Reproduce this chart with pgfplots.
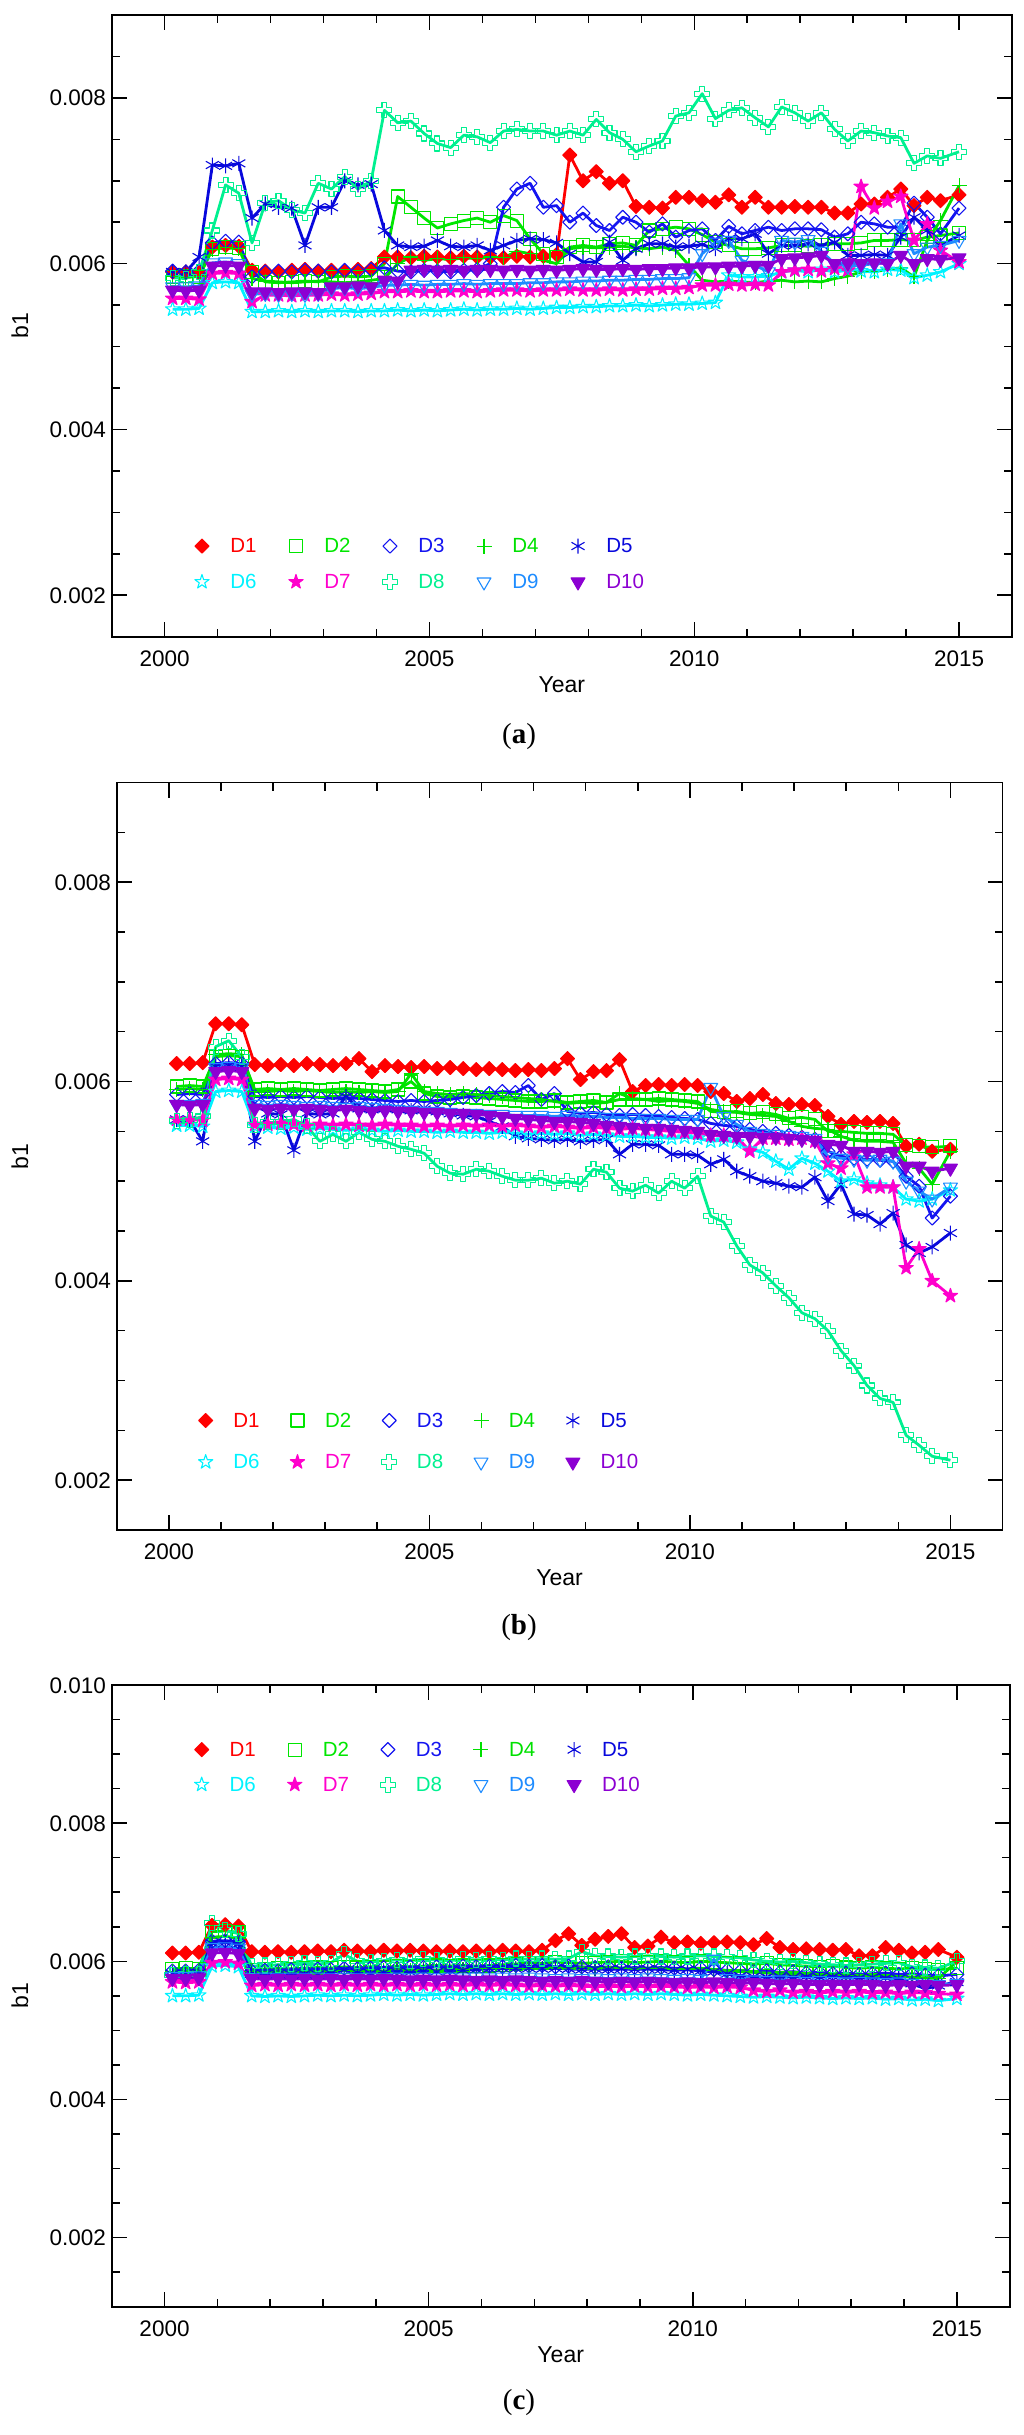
\documentclass[border=0pt]{standalone}
\usepackage{fontspec}
\setmainfont{Liberation Sans}
\newfontfamily\capfont{Liberation Serif}
\usepackage{pgfplots}
\usepackage{pgfplotstable}
\pgfplotsset{compat=1.18}
\usetikzlibrary{plotmarks}

\pgfdeclareplotmark{fdia}{\pgfpathmoveto{\pgfqpoint{0pt}{\pgfplotmarksize}}\pgfpathlineto{\pgfqpoint{\pgfplotmarksize}{0pt}}\pgfpathlineto{\pgfqpoint{0pt}{-\pgfplotmarksize}}\pgfpathlineto{\pgfqpoint{-\pgfplotmarksize}{0pt}}\pgfpathclose\pgfusepathqfillstroke}
\pgfdeclareplotmark{odia}{\pgfpathmoveto{\pgfqpoint{0pt}{\pgfplotmarksize}}\pgfpathlineto{\pgfqpoint{\pgfplotmarksize}{0pt}}\pgfpathlineto{\pgfqpoint{0pt}{-\pgfplotmarksize}}\pgfpathlineto{\pgfqpoint{-\pgfplotmarksize}{0pt}}\pgfpathclose\pgfusepathqstroke}
\def\starpath{\pgfpathmoveto{\pgfqpoint{0pt}{\pgfplotmarksize}}%
\pgfpathlineto{\pgfqpoint{-0.2245\pgfplotmarksize}{0.309\pgfplotmarksize}}%
\pgfpathlineto{\pgfqpoint{-0.951\pgfplotmarksize}{0.309\pgfplotmarksize}}%
\pgfpathlineto{\pgfqpoint{-0.363\pgfplotmarksize}{-0.118\pgfplotmarksize}}%
\pgfpathlineto{\pgfqpoint{-0.588\pgfplotmarksize}{-0.809\pgfplotmarksize}}%
\pgfpathlineto{\pgfqpoint{0pt}{-0.382\pgfplotmarksize}}%
\pgfpathlineto{\pgfqpoint{0.588\pgfplotmarksize}{-0.809\pgfplotmarksize}}%
\pgfpathlineto{\pgfqpoint{0.363\pgfplotmarksize}{-0.118\pgfplotmarksize}}%
\pgfpathlineto{\pgfqpoint{0.951\pgfplotmarksize}{0.309\pgfplotmarksize}}%
\pgfpathlineto{\pgfqpoint{0.2245\pgfplotmarksize}{0.309\pgfplotmarksize}}%
\pgfpathclose}
\pgfdeclareplotmark{ostar}{\starpath\pgfusepathqstroke}
\pgfdeclareplotmark{fstar}{\starpath\pgfusepathqfillstroke}
\pgfdeclareplotmark{ocross}{\pgfpathmoveto{\pgfqpoint{0.33\pgfplotmarksize}{\pgfplotmarksize}}%
\pgfpathlineto{\pgfqpoint{0.33\pgfplotmarksize}{0.33\pgfplotmarksize}}%
\pgfpathlineto{\pgfqpoint{\pgfplotmarksize}{0.33\pgfplotmarksize}}%
\pgfpathlineto{\pgfqpoint{\pgfplotmarksize}{-0.33\pgfplotmarksize}}%
\pgfpathlineto{\pgfqpoint{0.33\pgfplotmarksize}{-0.33\pgfplotmarksize}}%
\pgfpathlineto{\pgfqpoint{0.33\pgfplotmarksize}{-\pgfplotmarksize}}%
\pgfpathlineto{\pgfqpoint{-0.33\pgfplotmarksize}{-\pgfplotmarksize}}%
\pgfpathlineto{\pgfqpoint{-0.33\pgfplotmarksize}{-0.33\pgfplotmarksize}}%
\pgfpathlineto{\pgfqpoint{-\pgfplotmarksize}{-0.33\pgfplotmarksize}}%
\pgfpathlineto{\pgfqpoint{-\pgfplotmarksize}{0.33\pgfplotmarksize}}%
\pgfpathlineto{\pgfqpoint{-0.33\pgfplotmarksize}{0.33\pgfplotmarksize}}%
\pgfpathlineto{\pgfqpoint{-0.33\pgfplotmarksize}{\pgfplotmarksize}}%
\pgfpathclose\pgfusepathqstroke}
\def\tripath{\pgfpathmoveto{\pgfqpoint{0pt}{-\pgfplotmarksize}}\pgfpathlineto{\pgfqpoint{0.866\pgfplotmarksize}{0.5\pgfplotmarksize}}\pgfpathlineto{\pgfqpoint{-0.866\pgfplotmarksize}{0.5\pgfplotmarksize}}\pgfpathclose}
\pgfdeclareplotmark{dtri}{\tripath\pgfusepathqstroke}
\pgfdeclareplotmark{dtrif}{\tripath\pgfusepathqfillstroke}

\definecolor{cD1}{HTML}{FF0000}
\definecolor{cD2}{HTML}{00E600}
\definecolor{cD3}{HTML}{1414F0}
\definecolor{cD4}{HTML}{00E000}
\definecolor{cD5}{HTML}{0808DC}
\definecolor{cD6}{HTML}{00F2FF}
\definecolor{cD7}{HTML}{FF00CC}
\definecolor{cD8}{HTML}{00F090}
\definecolor{cD9}{HTML}{1E8CFF}
\definecolor{cD10}{HTML}{8C00D2}

\pgfplotsset{
 ser/.style={line width=2.8pt, line join=round, mark options={solid, line width=1.1pt}},
 sD1/.style={ser, color=cD1, mark=fdia, mark size=7pt},
 sD2/.style={ser, color=cD2, mark=square, mark size=6.5pt},
 sD3/.style={ser, color=cD3, mark=odia, mark size=7pt},
 sD4/.style={ser, color=cD4, mark=+, mark size=7.5pt},
 sD5/.style={ser, color=cD5, mark=asterisk, mark size=7.5pt},
 sD6/.style={ser, color=cD6, mark=ostar, mark size=7.5pt},
 sD7/.style={ser, color=cD7, mark=fstar, mark size=7.5pt},
 sD8/.style={ser, color=cD8, mark=ocross, mark size=7.5pt},
 sD9/.style={ser, color=cD9, mark=dtri, mark size=8pt},
 sD10/.style={ser, color=cD10, mark=dtrif, mark size=8pt},
 panel/.style={
  scale only axis, anchor=south west,
  xmin=1999, xmax=2016,
  xtick={2000,2005,2010,2015},
  minor xtick={2001,2002,2003,2004,2006,2007,2008,2009,2011,2012,2013,2014},
  tick pos=both, xticklabel pos=lower, yticklabel pos=left,
  tick align=inside,
  major tick length=15pt, minor tick length=8pt,
  tick style={black, line width=1.5pt},
  axis line style={line width=1.8pt},
  tick label style={font=\fontsize{22.5}{26}\selectfont},
  /pgf/number format/assume math mode=true,
  xticklabel style={/pgf/number format/1000 sep={}, anchor=north, inner sep=0pt, text height=16pt, text depth=0pt, yshift=-13.5pt},
  yticklabel style={/pgf/number format/fixed, /pgf/number format/fixed zerofill, /pgf/number format/precision=3, anchor=east, inner sep=0pt, text height=16pt, text depth=0pt, xshift=-5.5pt},
  scaled y ticks=false,
  xlabel={Year}, ylabel={b1},
  label style={font=\fontsize{23}{27}\selectfont},
  xlabel style={at={(axis description cs:0.5,0)}, anchor=center, yshift=-48pt, inner sep=0pt},
  ylabel style={anchor=center, inner sep=0pt},
  legend columns=5, legend cell align=left,
  legend image code/.code={\draw[##1] plot coordinates {(0pt,0pt)}; \path[draw=none,fill=none] (-8pt,-8pt) rectangle (8pt,8pt);},
  legend style={draw=none, fill=none, inner sep=0pt, outer sep=0pt, anchor=north west, font=\fontsize{20.5}{24}\selectfont, cells={inner sep=0pt, text height=14.7pt, text depth=0pt}},
 }
}

\pgfplotstableread{
x D1 D2 D3 D4 D5 D6 D7 D8 D9 D10
2000.15 0.00590 0.00584 0.00591 0.00584 0.00590 0.00545 0.00558 0.00583 0.00572 0.00568
2000.40 0.00590 0.00585 0.00590 0.00583 0.00590 0.00545 0.00558 0.00582 0.00572 0.00567
2000.65 0.00589 0.00584 0.00591 0.00585 0.00608 0.00546 0.00557 0.00590 0.00573 0.00568
2000.90 0.00620 0.00618 0.00625 0.00617 0.00719 0.00577 0.00588 0.00640 0.00601 0.00597
2001.15 0.00622 0.00620 0.00627 0.00619 0.00718 0.00578 0.00589 0.00695 0.00602 0.00598
2001.40 0.00621 0.00619 0.00626 0.00618 0.00721 0.00577 0.00588 0.00685 0.00600 0.00597
2001.65 0.00592 0.00590 0.00584 0.00582 0.00655 0.00542 0.00554 0.00625 0.00563 0.00566
2001.90 0.00591 0.00578 0.00590 0.00579 0.00672 0.00542 0.00562 0.00673 0.00564 0.00566
2002.15 0.00590 0.00577 0.00591 0.00578 0.00668 0.00543 0.00562 0.00676 0.00563 0.00565
2002.40 0.00592 0.00578 0.00590 0.00577 0.00667 0.00542 0.00561 0.00665 0.00564 0.00566
2002.65 0.00593 0.00579 0.00592 0.00578 0.00622 0.00543 0.00562 0.00661 0.00563 0.00566
2002.90 0.00591 0.00578 0.00591 0.00579 0.00668 0.00542 0.00562 0.00697 0.00564 0.00565
2003.15 0.00592 0.00584 0.00590 0.00578 0.00668 0.00543 0.00563 0.00690 0.00570 0.00572
2003.40 0.00591 0.00585 0.00592 0.00577 0.00700 0.00543 0.00562 0.00705 0.00571 0.00572
2003.65 0.00593 0.00584 0.00591 0.00578 0.00695 0.00542 0.00563 0.00690 0.00570 0.00573
2003.90 0.00594 0.00585 0.00593 0.00580 0.00696 0.00543 0.00564 0.00700 0.00571 0.00572
2004.15 0.00608 0.00600 0.00595 0.00582 0.00640 0.00543 0.00566 0.00785 0.00574 0.00580
2004.40 0.00608 0.00681 0.00591 0.00600 0.00622 0.00544 0.00566 0.00770 0.00574 0.00579
2004.65 0.00607 0.00668 0.00590 0.00608 0.00620 0.00543 0.00567 0.00772 0.00575 0.00592
2004.90 0.00609 0.00655 0.00592 0.00604 0.00621 0.00544 0.00566 0.00757 0.00574 0.00593
2005.15 0.00608 0.00643 0.00591 0.00606 0.00628 0.00543 0.00566 0.00745 0.00575 0.00592
2005.40 0.00607 0.00648 0.00590 0.00605 0.00621 0.00544 0.00567 0.00740 0.00575 0.00593
2005.65 0.00609 0.00652 0.00592 0.00607 0.00620 0.00545 0.00567 0.00755 0.00576 0.00592
2005.90 0.00608 0.00655 0.00593 0.00606 0.00622 0.00544 0.00566 0.00753 0.00575 0.00593
2006.15 0.00608 0.00650 0.00600 0.00608 0.00616 0.00545 0.00567 0.00746 0.00576 0.00593
2006.40 0.00607 0.00658 0.00668 0.00607 0.00622 0.00545 0.00568 0.00760 0.00576 0.00592
2006.65 0.00609 0.00652 0.00690 0.00615 0.00628 0.00546 0.00568 0.00762 0.00576 0.00593
2006.90 0.00608 0.00630 0.00697 0.00612 0.00630 0.00545 0.00567 0.00760 0.00577 0.00592
2007.15 0.00609 0.00612 0.00668 0.00604 0.00629 0.00546 0.00568 0.00760 0.00577 0.00593
2007.40 0.00611 0.00608 0.00670 0.00600 0.00625 0.00547 0.00568 0.00755 0.00578 0.00592
2007.65 0.00731 0.00620 0.00650 0.00618 0.00612 0.00547 0.00569 0.00760 0.00578 0.00593
2007.90 0.00700 0.00622 0.00661 0.00620 0.00602 0.00548 0.00568 0.00755 0.00579 0.00594
2008.15 0.00711 0.00620 0.00646 0.00619 0.00602 0.00548 0.00568 0.00774 0.00579 0.00593
2008.40 0.00697 0.00624 0.00640 0.00620 0.00626 0.00549 0.00569 0.00758 0.00580 0.00593
2008.65 0.00700 0.00625 0.00656 0.00621 0.00604 0.00549 0.00568 0.00750 0.00580 0.00594
2008.90 0.00669 0.00622 0.00650 0.00619 0.00618 0.00550 0.00569 0.00735 0.00581 0.00593
2009.15 0.00668 0.00640 0.00638 0.00618 0.00624 0.00549 0.00569 0.00742 0.00581 0.00594
2009.40 0.00667 0.00642 0.00648 0.00620 0.00624 0.00550 0.00570 0.00748 0.00582 0.00594
2009.65 0.00680 0.00644 0.00632 0.00616 0.00620 0.00551 0.00570 0.00778 0.00582 0.00595
2009.90 0.00680 0.00642 0.00640 0.00598 0.00621 0.00551 0.00571 0.00782 0.00583 0.00595
2010.15 0.00676 0.00635 0.00642 0.00580 0.00623 0.00552 0.00574 0.00805 0.00612 0.00596
2010.40 0.00674 0.00626 0.00628 0.00578 0.00618 0.00553 0.00574 0.00775 0.00626 0.00596
2010.65 0.00683 0.00622 0.00645 0.00579 0.00630 0.00586 0.00575 0.00785 0.00628 0.00597
2010.90 0.00668 0.00618 0.00636 0.00578 0.00630 0.00584 0.00574 0.00788 0.00604 0.00597
2011.15 0.00680 0.00618 0.00640 0.00577 0.00636 0.00584 0.00575 0.00776 0.00598 0.00598
2011.40 0.00668 0.00619 0.00644 0.00579 0.00612 0.00585 0.00574 0.00765 0.00590 0.00598
2011.65 0.00668 0.00622 0.00640 0.00580 0.00622 0.00590 0.00590 0.00789 0.00628 0.00606
2011.90 0.00669 0.00622 0.00642 0.00578 0.00622 0.00592 0.00592 0.00782 0.00626 0.00607
2012.15 0.00668 0.00621 0.00642 0.00579 0.00624 0.00590 0.00593 0.00772 0.00629 0.00608
2012.40 0.00668 0.00623 0.00641 0.00578 0.00622 0.00593 0.00591 0.00782 0.00615 0.00610
2012.65 0.00661 0.00624 0.00632 0.00582 0.00626 0.00590 0.00594 0.00762 0.00600 0.00600
2012.90 0.00661 0.00624 0.00636 0.00585 0.00610 0.00592 0.00592 0.00748 0.00597 0.00601
2013.15 0.00672 0.00625 0.00650 0.00590 0.00610 0.00591 0.00693 0.00760 0.00598 0.00600
2013.40 0.00672 0.00628 0.00648 0.00591 0.00611 0.00590 0.00667 0.00758 0.00600 0.00601
2013.65 0.00680 0.00628 0.00644 0.00593 0.00610 0.00593 0.00675 0.00754 0.00601 0.00600
2013.90 0.00690 0.00629 0.00644 0.00595 0.00632 0.00592 0.00681 0.00752 0.00648 0.00610
2014.15 0.00670 0.00628 0.00673 0.00584 0.00656 0.00583 0.00628 0.00721 0.00612 0.00600
2014.40 0.00680 0.00632 0.00656 0.00628 0.00640 0.00586 0.00648 0.00730 0.00620 0.00606
2014.65 0.00676 0.00634 0.00636 0.00652 0.00622 0.00590 0.00616 0.00727 0.00622 0.00605
2015.00 0.00683 0.00637 0.00667 0.00694 0.00634 0.00600 0.00602 0.00735 0.00628 0.00607
}\tabA

\pgfplotstableread{
x D1 D2 D3 D4 D5 D6 D7 D8 D9 D10
2000.15 0.00618 0.00595 0.00587 0.00592 0.00562 0.00556 0.00562 0.00560 0.00577 0.00577
2000.40 0.00618 0.00596 0.00588 0.00593 0.00562 0.00556 0.00562 0.00561 0.00577 0.00576
2000.65 0.00619 0.00595 0.00587 0.00592 0.00540 0.00555 0.00561 0.00565 0.00578 0.00577
2000.90 0.00658 0.00625 0.00618 0.00627 0.00615 0.00590 0.00602 0.00635 0.00614 0.00610
2001.15 0.00658 0.00626 0.00619 0.00628 0.00616 0.00591 0.00603 0.00641 0.00615 0.00611
2001.40 0.00657 0.00625 0.00618 0.00627 0.00615 0.00590 0.00602 0.00625 0.00614 0.00610
2001.65 0.00617 0.00592 0.00585 0.00590 0.00540 0.00555 0.00557 0.00556 0.00577 0.00573
2001.90 0.00616 0.00593 0.00584 0.00590 0.00568 0.00554 0.00557 0.00559 0.00576 0.00572
2002.15 0.00617 0.00592 0.00585 0.00591 0.00567 0.00553 0.00558 0.00559 0.00577 0.00573
2002.40 0.00616 0.00593 0.00584 0.00590 0.00531 0.00554 0.00557 0.00562 0.00576 0.00572
2002.65 0.00618 0.00592 0.00585 0.00591 0.00568 0.00552 0.00556 0.00555 0.00575 0.00573
2002.90 0.00617 0.00591 0.00584 0.00590 0.00567 0.00553 0.00557 0.00540 0.00576 0.00572
2003.15 0.00616 0.00592 0.00583 0.00589 0.00568 0.00552 0.00556 0.00547 0.00575 0.00571
2003.40 0.00618 0.00593 0.00584 0.00590 0.00585 0.00551 0.00557 0.00540 0.00574 0.00572
2003.65 0.00623 0.00592 0.00583 0.00589 0.00573 0.00552 0.00556 0.00549 0.00575 0.00571
2003.90 0.00610 0.00591 0.00582 0.00590 0.00572 0.00551 0.00556 0.00542 0.00574 0.00570
2004.15 0.00616 0.00590 0.00581 0.00589 0.00573 0.00550 0.00557 0.00540 0.00573 0.00571
2004.40 0.00615 0.00592 0.00580 0.00590 0.00572 0.00551 0.00556 0.00535 0.00572 0.00570
2004.65 0.00614 0.00600 0.00581 0.00608 0.00571 0.00550 0.00556 0.00532 0.00571 0.00570
2004.90 0.00615 0.00588 0.00580 0.00590 0.00572 0.00550 0.00555 0.00528 0.00570 0.00569
2005.15 0.00613 0.00585 0.00581 0.00588 0.00570 0.00549 0.00556 0.00515 0.00570 0.00569
2005.40 0.00614 0.00584 0.00582 0.00587 0.00568 0.00550 0.00555 0.00508 0.00569 0.00568
2005.65 0.00613 0.00585 0.00584 0.00588 0.00566 0.00549 0.00556 0.00507 0.00568 0.00568
2005.90 0.00612 0.00584 0.00586 0.00587 0.00565 0.00549 0.00555 0.00512 0.00568 0.00567
2006.15 0.00613 0.00583 0.00588 0.00586 0.00560 0.00548 0.00556 0.00510 0.00567 0.00566
2006.40 0.00612 0.00582 0.00590 0.00585 0.00555 0.00549 0.00555 0.00505 0.00567 0.00565
2006.65 0.00611 0.00581 0.00589 0.00584 0.00545 0.00548 0.00556 0.00501 0.00566 0.00563
2006.90 0.00612 0.00580 0.00596 0.00583 0.00543 0.00547 0.00555 0.00501 0.00566 0.00562
2007.15 0.00611 0.00580 0.00582 0.00582 0.00542 0.00548 0.00554 0.00503 0.00566 0.00561
2007.40 0.00613 0.00581 0.00588 0.00580 0.00541 0.00547 0.00555 0.00498 0.00565 0.00560
2007.65 0.00623 0.00579 0.00570 0.00578 0.00542 0.00548 0.00554 0.00500 0.00566 0.00560
2007.90 0.00602 0.00580 0.00568 0.00579 0.00540 0.00546 0.00553 0.00497 0.00565 0.00559
2008.15 0.00610 0.00581 0.00569 0.00578 0.00541 0.00547 0.00554 0.00512 0.00565 0.00558
2008.40 0.00611 0.00579 0.00567 0.00579 0.00542 0.00546 0.00553 0.00509 0.00564 0.00556
2008.65 0.00622 0.00582 0.00566 0.00588 0.00527 0.00545 0.00552 0.00493 0.00564 0.00555
2008.90 0.00590 0.00582 0.00567 0.00583 0.00537 0.00545 0.00553 0.00490 0.00563 0.00554
2009.15 0.00596 0.00582 0.00566 0.00582 0.00537 0.00544 0.00552 0.00496 0.00563 0.00553
2009.40 0.00597 0.00583 0.00565 0.00580 0.00536 0.00544 0.00551 0.00488 0.00563 0.00553
2009.65 0.00596 0.00582 0.00564 0.00581 0.00527 0.00543 0.00550 0.00500 0.00562 0.00552
2009.90 0.00597 0.00581 0.00563 0.00580 0.00527 0.00544 0.00549 0.00493 0.00562 0.00551
2010.15 0.00596 0.00580 0.00562 0.00578 0.00526 0.00543 0.00548 0.00505 0.00562 0.00550
2010.40 0.00590 0.00570 0.00558 0.00572 0.00517 0.00540 0.00546 0.00465 0.00594 0.00547
2010.65 0.00588 0.00569 0.00556 0.00570 0.00522 0.00541 0.00546 0.00459 0.00565 0.00546
2010.90 0.00580 0.00570 0.00555 0.00569 0.00510 0.00539 0.00545 0.00435 0.00557 0.00545
2011.15 0.00583 0.00568 0.00552 0.00567 0.00505 0.00532 0.00530 0.00416 0.00550 0.00545
2011.40 0.00587 0.00569 0.00550 0.00566 0.00500 0.00529 0.00543 0.00408 0.00548 0.00544
2011.65 0.00578 0.00567 0.00548 0.00565 0.00498 0.00520 0.00543 0.00395 0.00547 0.00544
2011.90 0.00577 0.00563 0.00546 0.00560 0.00495 0.00512 0.00542 0.00383 0.00546 0.00543
2012.15 0.00577 0.00564 0.00544 0.00555 0.00494 0.00523 0.00543 0.00368 0.00545 0.00542
2012.40 0.00576 0.00562 0.00542 0.00553 0.00504 0.00518 0.00540 0.00362 0.00543 0.00541
2012.65 0.00565 0.00550 0.00530 0.00552 0.00480 0.00510 0.00518 0.00350 0.00525 0.00537
2012.90 0.00557 0.00550 0.00525 0.00545 0.00497 0.00500 0.00513 0.00330 0.00523 0.00536
2013.15 0.00560 0.00549 0.00523 0.00541 0.00467 0.00502 0.00527 0.00315 0.00522 0.00530
2013.40 0.00559 0.00548 0.00522 0.00540 0.00466 0.00498 0.00494 0.00295 0.00521 0.00530
2013.65 0.00560 0.00548 0.00521 0.00540 0.00457 0.00496 0.00494 0.00282 0.00522 0.00529
2013.90 0.00558 0.00547 0.00520 0.00539 0.00468 0.00494 0.00494 0.00278 0.00520 0.00530
2014.15 0.00535 0.00536 0.00505 0.00518 0.00436 0.00482 0.00413 0.00245 0.00500 0.00515
2014.40 0.00537 0.00535 0.00495 0.00513 0.00428 0.00480 0.00432 0.00235 0.00490 0.00515
2014.65 0.00530 0.00534 0.00463 0.00497 0.00434 0.00482 0.00400 0.00224 0.00482 0.00510
2015.00 0.00532 0.00535 0.00485 0.00530 0.00448 0.00491 0.00385 0.00220 0.00494 0.00513
}\tabB

\pgfplotstableread{
x D1 D2 D3 D4 D5 D6 D7 D8 D9 D10
2000.15 0.00612 0.00589 0.00586 0.00585 0.00582 0.00550 0.00570 0.00580 0.00578 0.00575
2000.40 0.00612 0.00590 0.00586 0.00585 0.00582 0.00550 0.00569 0.00581 0.00578 0.00575
2000.65 0.00613 0.00589 0.00587 0.00586 0.00583 0.00551 0.00570 0.00582 0.00579 0.00576
2000.90 0.00652 0.00643 0.00629 0.00635 0.00626 0.00593 0.00598 0.00656 0.00620 0.00612
2001.15 0.00653 0.00644 0.00630 0.00636 0.00627 0.00594 0.00599 0.00645 0.00621 0.00613
2001.40 0.00651 0.00642 0.00628 0.00634 0.00625 0.00592 0.00597 0.00640 0.00619 0.00611
2001.65 0.00614 0.00588 0.00586 0.00585 0.00582 0.00550 0.00565 0.00593 0.00576 0.00575
2001.90 0.00613 0.00589 0.00587 0.00584 0.00581 0.00549 0.00566 0.00594 0.00577 0.00574
2002.15 0.00614 0.00590 0.00586 0.00585 0.00582 0.00550 0.00565 0.00595 0.00576 0.00575
2002.40 0.00613 0.00589 0.00588 0.00584 0.00581 0.00549 0.00566 0.00596 0.00577 0.00574
2002.65 0.00614 0.00590 0.00587 0.00586 0.00582 0.00550 0.00565 0.00597 0.00576 0.00575
2002.90 0.00615 0.00591 0.00589 0.00585 0.00581 0.00551 0.00566 0.00596 0.00577 0.00574
2003.15 0.00614 0.00590 0.00588 0.00586 0.00583 0.00550 0.00565 0.00598 0.00576 0.00575
2003.40 0.00616 0.00592 0.00590 0.00587 0.00588 0.00551 0.00566 0.00610 0.00577 0.00574
2003.65 0.00615 0.00591 0.00589 0.00586 0.00584 0.00550 0.00565 0.00600 0.00576 0.00575
2003.90 0.00614 0.00592 0.00590 0.00587 0.00583 0.00551 0.00566 0.00599 0.00577 0.00574
2004.15 0.00616 0.00591 0.00591 0.00586 0.00584 0.00552 0.00565 0.00601 0.00576 0.00575
2004.40 0.00615 0.00593 0.00590 0.00588 0.00585 0.00551 0.00566 0.00602 0.00577 0.00574
2004.65 0.00616 0.00592 0.00592 0.00587 0.00584 0.00552 0.00565 0.00601 0.00576 0.00573
2004.90 0.00615 0.00593 0.00591 0.00588 0.00586 0.00551 0.00566 0.00603 0.00577 0.00574
2005.15 0.00614 0.00594 0.00592 0.00587 0.00585 0.00552 0.00565 0.00602 0.00576 0.00573
2005.40 0.00615 0.00593 0.00591 0.00589 0.00586 0.00553 0.00566 0.00601 0.00577 0.00574
2005.65 0.00614 0.00594 0.00593 0.00588 0.00587 0.00552 0.00565 0.00603 0.00576 0.00573
2005.90 0.00615 0.00593 0.00592 0.00589 0.00588 0.00553 0.00566 0.00602 0.00577 0.00572
2006.15 0.00614 0.00594 0.00593 0.00590 0.00589 0.00552 0.00565 0.00603 0.00576 0.00573
2006.40 0.00616 0.00595 0.00592 0.00589 0.00590 0.00553 0.00566 0.00602 0.00577 0.00572
2006.65 0.00615 0.00596 0.00594 0.00590 0.00589 0.00552 0.00565 0.00604 0.00576 0.00573
2006.90 0.00614 0.00598 0.00593 0.00589 0.00590 0.00553 0.00564 0.00603 0.00577 0.00572
2007.15 0.00616 0.00597 0.00594 0.00590 0.00589 0.00552 0.00565 0.00604 0.00576 0.00571
2007.40 0.00630 0.00599 0.00592 0.00591 0.00590 0.00553 0.00564 0.00603 0.00575 0.00572
2007.65 0.00640 0.00598 0.00593 0.00590 0.00589 0.00552 0.00565 0.00604 0.00576 0.00571
2007.90 0.00623 0.00597 0.00592 0.00591 0.00588 0.00553 0.00564 0.00614 0.00575 0.00572
2008.15 0.00632 0.00598 0.00591 0.00590 0.00589 0.00552 0.00563 0.00608 0.00576 0.00571
2008.40 0.00636 0.00599 0.00592 0.00591 0.00588 0.00553 0.00564 0.00607 0.00575 0.00570
2008.65 0.00640 0.00600 0.00590 0.00590 0.00589 0.00552 0.00563 0.00606 0.00576 0.00571
2008.90 0.00620 0.00598 0.00591 0.00589 0.00588 0.00553 0.00564 0.00607 0.00575 0.00570
2009.15 0.00622 0.00599 0.00590 0.00590 0.00589 0.00552 0.00563 0.00608 0.00576 0.00571
2009.40 0.00635 0.00600 0.00591 0.00589 0.00588 0.00553 0.00564 0.00607 0.00575 0.00570
2009.65 0.00627 0.00599 0.00590 0.00588 0.00587 0.00552 0.00563 0.00606 0.00574 0.00569
2009.90 0.00628 0.00598 0.00589 0.00589 0.00588 0.00551 0.00562 0.00607 0.00575 0.00570
2010.15 0.00626 0.00600 0.00590 0.00588 0.00586 0.00552 0.00563 0.00608 0.00574 0.00569
2010.40 0.00627 0.00599 0.00588 0.00587 0.00585 0.00551 0.00562 0.00607 0.00603 0.00570
2010.65 0.00628 0.00598 0.00587 0.00586 0.00582 0.00550 0.00563 0.00606 0.00575 0.00569
2010.90 0.00627 0.00597 0.00586 0.00585 0.00579 0.00549 0.00562 0.00605 0.00574 0.00568
2011.15 0.00624 0.00596 0.00585 0.00584 0.00578 0.00548 0.00558 0.00602 0.00573 0.00569
2011.40 0.00633 0.00597 0.00586 0.00583 0.00577 0.00549 0.00556 0.00600 0.00572 0.00568
2011.65 0.00620 0.00595 0.00584 0.00582 0.00578 0.00548 0.00558 0.00599 0.00573 0.00567
2011.90 0.00617 0.00594 0.00585 0.00581 0.00577 0.00547 0.00555 0.00600 0.00572 0.00568
2012.15 0.00618 0.00593 0.00583 0.00582 0.00578 0.00548 0.00556 0.00598 0.00571 0.00567
2012.40 0.00617 0.00592 0.00584 0.00580 0.00577 0.00547 0.00554 0.00596 0.00572 0.00566
2012.65 0.00616 0.00593 0.00582 0.00581 0.00578 0.00546 0.00556 0.00595 0.00571 0.00567
2012.90 0.00617 0.00591 0.00583 0.00579 0.00577 0.00547 0.00555 0.00594 0.00570 0.00566
2013.15 0.00608 0.00590 0.00581 0.00580 0.00576 0.00546 0.00556 0.00595 0.00571 0.00567
2013.40 0.00608 0.00591 0.00582 0.00578 0.00577 0.00547 0.00554 0.00596 0.00570 0.00566
2013.65 0.00620 0.00590 0.00583 0.00579 0.00576 0.00545 0.00555 0.00597 0.00569 0.00565
2013.90 0.00616 0.00589 0.00581 0.00578 0.00575 0.00546 0.00553 0.00598 0.00570 0.00566
2014.15 0.00612 0.00590 0.00582 0.00577 0.00568 0.00544 0.00555 0.00592 0.00568 0.00565
2014.40 0.00613 0.00589 0.00580 0.00576 0.00560 0.00545 0.00554 0.00591 0.00567 0.00566
2014.65 0.00617 0.00588 0.00579 0.00575 0.00565 0.00543 0.00553 0.00590 0.00566 0.00565
2015.00 0.00606 0.00590 0.00581 0.00600 0.00570 0.00546 0.00552 0.00600 0.00568 0.00566
}\tabC

\newcommand\allplots[1]{%
 \addplot[sD1] table[x=x,y=D1]{#1}; \addlegendentry{\textcolor{cD1}{D1}}
 \addplot[sD2] table[x=x,y=D2]{#1}; \addlegendentry{\textcolor{cD2}{D2}}
 \addplot[sD3] table[x=x,y=D3]{#1}; \addlegendentry{\textcolor{cD3}{D3}}
 \addplot[sD4] table[x=x,y=D4]{#1}; \addlegendentry{\textcolor{cD4}{D4}}
 \addplot[sD5] table[x=x,y=D5]{#1}; \addlegendentry{\textcolor{cD5}{D5}}
 \addplot[sD6] table[x=x,y=D6]{#1}; \addlegendentry{\textcolor{cD6}{D6}}
 \addplot[sD7] table[x=x,y=D7]{#1}; \addlegendentry{\textcolor{cD7}{D7}}
 \addplot[sD8] table[x=x,y=D8]{#1}; \addlegendentry{\textcolor{cD8}{D8}}
 \addplot[sD9] table[x=x,y=D9]{#1}; \addlegendentry{\textcolor{cD9}{D9}}
 \addplot[sD10] table[x=x,y=D10]{#1}; \addlegendentry{\textcolor{cD10}{D10}}
}

\begin{document}
\begin{tikzpicture}
\path[use as bounding box] (0pt,0pt) rectangle (1024pt,2435pt);

\begin{axis}[panel, at={(111.7pt,1798.3pt)}, width=900.3pt, height=621.7pt,
  ymin=0.0015, ymax=0.009, ytick={0.002,0.004,0.006,0.008},
  minor ytick={0.0025,0.003,0.0035,0.0045,0.005,0.0055,0.0065,0.007,0.0075,0.0085},
  ylabel style={at={(axis description cs:-0.1019,0.5)}},
  legend style={at={(0.0914,0.162)}, row sep=15.7pt, column sep=18.4pt, /tikz/every even column/.append style={column sep=29.4pt}}]
 \allplots{\tabA}
\end{axis}

\begin{axis}[panel, at={(116.7pt,905pt)}, width=885.8pt, height=747.4pt,
  ymin=0.0015, ymax=0.009, ytick={0.002,0.004,0.006,0.008},
  minor ytick={0.0025,0.003,0.0035,0.0045,0.005,0.0055,0.0065,0.007,0.0075,0.0085},
  ylabel style={at={(axis description cs:-0.1092,0.5)}},
  legend style={at={(0.0914,0.160)}, row sep=21.4pt, column sep=17.7pt, /tikz/every even column/.append style={column sep=27.9pt}}]
 \allplots{\tabB}
\end{axis}

\begin{axis}[panel, at={(111.7pt,128.3pt)}, width=898pt, height=621.7pt,
  ymin=0.001, ymax=0.010, ytick={0.002,0.004,0.006,0.008,0.010},
  minor ytick={0.0015,0.0025,0.003,0.0035,0.0045,0.005,0.0055,0.0065,0.007,0.0075,0.0085,0.009,0.0095},
  ylabel style={at={(axis description cs:-0.1021,0.5)}},
  legend style={at={(0.0913,0.9123)}, row sep=14.8pt, column sep=18pt, /tikz/every even column/.append style={column sep=28.9pt}}]
 \allplots{\tabC}
\end{axis}

\node[font=\capfont\fontsize{29}{34}\selectfont] at (519pt,1698pt) {(\textbf{a})};
\node[font=\capfont\fontsize{29}{34}\selectfont] at (519pt,807pt) {(\textbf{b})};
\node[font=\capfont\fontsize{29}{34}\selectfont] at (519pt,32pt) {(\textbf{c})};
\end{tikzpicture}
\end{document}
